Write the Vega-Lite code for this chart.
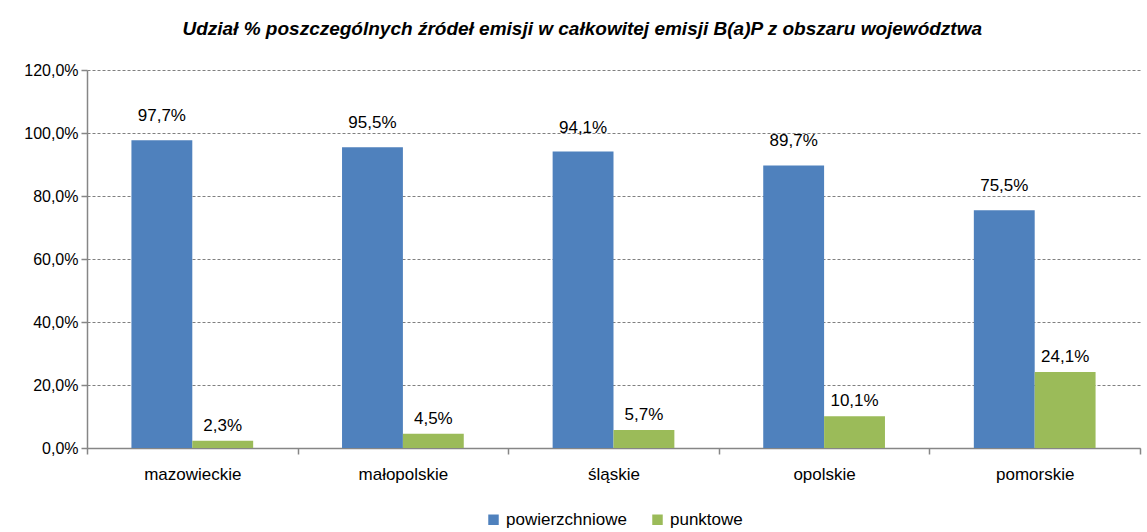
{
  "$schema": "https://vega.github.io/schema/vega-lite/v6.json",
  "autosize": {"type": "none"},
  "width": 1053,
  "height": 378,
  "padding": {"left": 87, "top": 70, "right": 7, "bottom": 84},
  "background": "white",
  "config": {
    "locale": {"number": {"decimal": ",", "thousands": " ", "grouping": [3], "currency": ["", " zł"]}},
    "font": "Liberation Sans",
    "view": {"stroke": null},
    "legend": {"layout": {"bottom": {"anchor": "middle"}}}
  },
  "title": {
    "text": "Udział % poszczególnych źródeł emisji w całkowitej emisji B(a)P z obszaru województwa",
    "font": "Liberation Sans",
    "fontSize": 19,
    "fontWeight": "bold",
    "fontStyle": "italic",
    "color": "#000000",
    "frame": "bounds",
    "anchor": "middle",
    "offset": 23
  },
  "data": {
    "values": [
      {"woj": "mazowieckie", "zrodlo": "powierzchniowe", "v": 0.977},
      {"woj": "mazowieckie", "zrodlo": "punktowe", "v": 0.023},
      {"woj": "małopolskie", "zrodlo": "powierzchniowe", "v": 0.955},
      {"woj": "małopolskie", "zrodlo": "punktowe", "v": 0.045},
      {"woj": "śląskie", "zrodlo": "powierzchniowe", "v": 0.941},
      {"woj": "śląskie", "zrodlo": "punktowe", "v": 0.057},
      {"woj": "opolskie", "zrodlo": "powierzchniowe", "v": 0.897},
      {"woj": "opolskie", "zrodlo": "punktowe", "v": 0.101},
      {"woj": "pomorskie", "zrodlo": "powierzchniowe", "v": 0.755},
      {"woj": "pomorskie", "zrodlo": "punktowe", "v": 0.241}
    ]
  },
  "encoding": {
    "x": {
      "field": "woj", "type": "nominal", "sort": null,
      "scale": {"paddingInner": 0, "paddingOuter": 0},
      "axis": {
        "title": null, "labelAngle": 0, "labelFontSize": 17, "labelColor": "#000000",
        "labelPadding": 12, "domainColor": "#868686", "domainWidth": 1.5,
        "tickColor": "#868686", "tickSize": 6, "tickWidth": 1.5, "tickBand": "extent", "grid": false
      }
    },
    "xOffset": {"field": "zrodlo", "type": "nominal", "scale": {"paddingInner": 0, "paddingOuter": 0.73}},
    "y": {
      "field": "v", "type": "quantitative",
      "scale": {"domain": [0, 1.2], "nice": false},
      "axis": {
        "title": null, "format": ".1%", "values": [0, 0.2, 0.4, 0.6, 0.8, 1.0, 1.2],
        "labelFontSize": 16, "labelColor": "#000000", "labelPadding": 3,
        "domainColor": "#868686", "domainWidth": 1.5, "tickColor": "#868686",
        "tickSize": 6, "tickWidth": 1.5,
        "grid": true, "gridColor": "#808080", "gridDash": [3, 2], "gridWidth": 1
      }
    }
  },
  "layer": [
    {
      "mark": {"type": "bar"},
      "encoding": {
        "color": {
          "field": "zrodlo", "type": "nominal",
          "scale": {"domain": ["powierzchniowe", "punktowe"], "range": ["#4F81BD", "#9BBB59"]},
          "legend": {
            "title": null, "orient": "bottom", "direction": "horizontal",
            "symbolType": "square", "symbolSize": 110, "symbolStrokeWidth": 0,
            "labelFontSize": 17, "labelColor": "#000000", "columnPadding": 22, "offset": 29
          }
        }
      }
    },
    {
      "transform": [{"filter": "datum.zrodlo === 'powierzchniowe'"}],
      "mark": {"type": "text", "baseline": "bottom", "dy": -15, "fontSize": 17, "color": "#000000"},
      "encoding": {
        "text": {"field": "v", "type": "quantitative", "format": ".1%"}
      }
    },
    {
      "transform": [{"filter": "datum.zrodlo === 'punktowe'"}],
      "mark": {"type": "text", "baseline": "bottom", "dy": -6, "fontSize": 17, "color": "#000000"},
      "encoding": {
        "text": {"field": "v", "type": "quantitative", "format": ".1%"}
      }
    }
  ]
}
